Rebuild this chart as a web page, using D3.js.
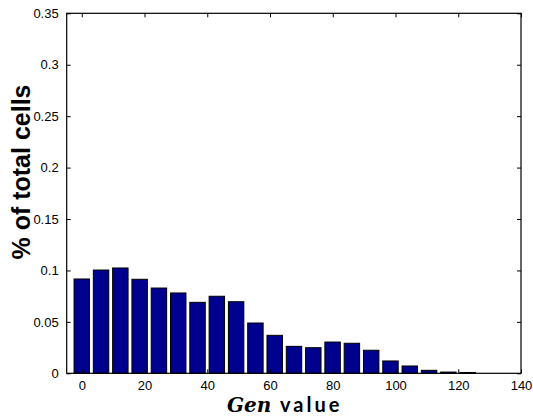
<!DOCTYPE html>
<html>
<head>
<meta charset="utf-8">
<script src="https://cdn.jsdelivr.net/npm/d3@7/dist/d3.min.js"></script>
<style>
  html, body { margin: 0; padding: 0; background: #fff; }
  svg { display: block; }
</style>
</head>
<body>
<script>
// Histogram bin centres (Gen value) and share of cells in each bin
const binCenters = [0, 6.15, 12.3, 18.45, 24.6, 30.75, 36.9, 43.05, 49.2, 55.35, 61.5,
                    67.65, 73.8, 79.95, 86.1, 92.25, 98.4, 104.55, 110.7, 116.85, 123];
const cellShare = [0.0917, 0.1004, 0.1024, 0.0914, 0.0829, 0.0781, 0.0690, 0.0749, 0.0696, 0.0489, 0.0369,
                   0.0262, 0.0249, 0.0304, 0.0292, 0.0224, 0.0120, 0.0071, 0.0029, 0.0012, 0.0008];
const xTicks = [0, 20, 40, 60, 80, 100, 120, 140];
const yTicks = [0, 0.05, 0.1, 0.15, 0.2, 0.25, 0.3, 0.35];

const W = 533, H = 416;
const plot = { left: 66.7, right: 521, top: 13.3, bottom: 373.3 };
const binWidth = 6.15 * 0.8;

const svg = d3.select("body").append("svg").attr("width", W).attr("height", H);

const x = d3.scaleLinear().domain([-4.8, 140]).range([plot.left, plot.right]);
const y = d3.scaleLinear().domain([0, 0.35]).range([plot.bottom, plot.top]);

// bars
svg.append("g").selectAll("rect")
  .data(binCenters.map((c, i) => ({ c, v: cellShare[i] })))
  .join("rect")
  .attr("x", d => x(d.c - binWidth / 2))
  .attr("width", d => x(d.c + binWidth / 2) - x(d.c - binWidth / 2))
  .attr("y", d => y(d.v))
  .attr("height", d => y(0) - y(d.v))
  .attr("fill", "#00008f")
  .attr("stroke", "#000")
  .attr("stroke-width", 1);

const tickFont = "'Liberation Sans', Arial, sans-serif";

// axes with inward ticks
const styleAxis = g => {
  g.select(".domain").remove();
  g.selectAll(".tick line").attr("stroke", "#000").attr("stroke-width", 1);
  g.selectAll(".tick text").attr("fill", "#000").style("font-family", tickFont).style("font-size", "13px");
};

svg.append("g").attr("transform", `translate(0,${plot.bottom})`)
  .call(d3.axisBottom(x).tickValues(xTicks).tickFormat(d3.format("d")).tickSizeInner(-4).tickSizeOuter(0).tickPadding(7))
  .call(styleAxis);
svg.append("g").attr("transform", `translate(0,${plot.top})`)
  .call(d3.axisTop(x).tickValues(xTicks).tickFormat("").tickSizeInner(-4).tickSizeOuter(0))
  .call(styleAxis);
svg.append("g").attr("transform", `translate(${plot.left},0)`)
  .call(d3.axisLeft(y).tickValues(yTicks).tickFormat(d => d === 0 ? "0" : String(+d.toFixed(2))).tickSizeInner(-4).tickSizeOuter(0).tickPadding(8))
  .call(styleAxis);
svg.append("g").attr("transform", `translate(${plot.right},0)`)
  .call(d3.axisRight(y).tickValues(yTicks).tickFormat("").tickSizeInner(-4).tickSizeOuter(0))
  .call(styleAxis);

// box
svg.append("rect")
  .attr("x", plot.left).attr("y", plot.top)
  .attr("width", plot.right - plot.left).attr("height", plot.bottom - plot.top)
  .attr("fill", "none").attr("stroke", "#000").attr("stroke-width", 1.2);

// axis titles
const xl = svg.append("text")
  .attr("x", 227).attr("y", 411.5)
  .attr("fill", "#000");
xl.append("tspan")
  .style("font-family", "'DejaVu Serif', serif")
  .style("font-style", "italic").style("font-weight", "bold").style("font-size", "20px")
  .text("Gen");
xl.append("tspan")
  .attr("x", 280)
  .style("font-family", "Lato, 'Open Sans', sans-serif")
  .style("font-weight", "bold").style("font-size", "20px").style("letter-spacing", "3px")
  .text("value");

svg.append("text")
  .attr("transform", "translate(30,172) rotate(-90)")
  .attr("text-anchor", "middle")
  .style("font-family", "'Liberation Sans', Arial, sans-serif")
  .style("font-weight", "bold").style("font-size", "25px")
  .attr("fill", "#000")
  .text("% of total cells");
</script>
</body>
</html>
